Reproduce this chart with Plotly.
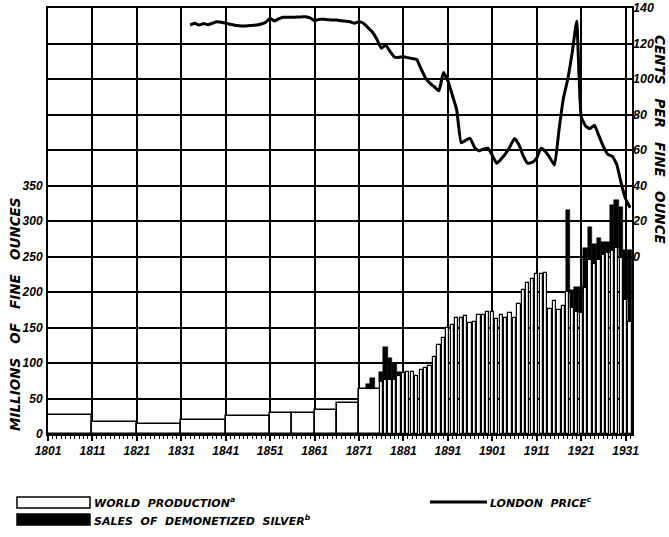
import plotly.graph_objects as go

# ---------------- data ----------------
# multi-year period averages (first year, last year, million fine ounces)
period_first = [1801, 1811, 1821, 1831, 1841, 1851, 1856, 1861, 1866, 1871]
period_last = [1810, 1820, 1830, 1840, 1850, 1855, 1860, 1865, 1870, 1875]
period_prod = [27, 17.5, 14.5, 20, 25.5, 30, 29, 34, 44, 64]

# annual world production, million fine ounces
annual_years = list(range(1876, 1933))
annual_prod = [73, 76, 76, 76, 82, 86, 88, 88, 81, 90,
               93, 96, 109, 125, 135, 150, 153, 164, 163, 166,
               156, 158, 168, 168, 172, 172, 162, 168, 163, 171,
               163, 183, 203, 213, 219, 226, 226, 227, 176, 188,
               175, 180, 200, 178, 172, 170, 205, 245, 240, 245,
               252, 255, 258, 262, 248, 189, 158]

# sales of demonetized silver, million fine ounces
sales_years = [1873, 1874, 1876, 1877, 1878, 1879, 1880,
               1918, 1919, 1920, 1921, 1922, 1923, 1924, 1925,
               1926, 1927, 1928, 1929, 1930, 1931, 1932]
sales_amount = [6, 15, 15, 47, 31, 24, 6,
                115, 25, 35, 37, 57, 47, 28, 31,
                19, 16, 64, 68, 72, 70, 101]

# London price, cents per fine ounce
price_years = list(range(1833, 1933))
price_cents = [130.4, 131.4, 130.4, 131.2, 130.6, 131.4, 132.3, 132.0, 131.4, 130.8,
               130.3, 130.0, 129.9, 130.0, 130.2, 130.4, 131.0, 132.0, 134.2, 132.7,
               134.0, 134.8, 134.8, 134.8, 134.9, 135.0, 135.1, 134.4, 132.8, 133.6,
               133.6, 133.4, 133.3, 133.2, 132.8, 132.6, 132.3, 131.4, 132.3, 131.4,
               129.0, 126.5, 122.5, 117.3, 119.2, 115.5, 112.3, 112.2, 112.6, 112.0,
               111.5, 111.0, 105.5, 100.5, 97.5, 95.5, 93.4, 103.6, 99.0, 91.0,
               82.5, 64.0, 65.5, 66.6, 61.5, 59.5, 60.5, 61.0, 57.0, 52.5,
               55.0, 58.0, 62.0, 66.5, 63.0, 56.5, 52.5, 53.0, 55.5, 61.0,
               59.0, 55.5, 51.5, 71.0, 89.0, 100.0, 115.0, 132.5, 79.0, 73.5,
               72.0, 74.0, 68.0, 62.0, 57.5, 56.5, 52.0, 41.5, 32.5, 27.5]

x_ticks = list(range(1801, 1932, 10))
left_ticks = list(range(0, 351, 50))
right_ticks = list(range(0, 141, 20))

# ---------------- figure ----------------
W, H = 669, 537
ML, MR, MT, MB = 48, 37, 8, 103
PW, PH = W - ML - MR, H - MT - MB


def px(x):
    return (x - ML) / PW


def py(y):
    return (H - MB - y) / PH


fig = go.Figure()

# period bars
p_centers = [(a + b + 1) / 2 for a, b in zip(period_first, period_last)]
p_widths = [(b + 1 - a) for a, b in zip(period_first, period_last)]
fig.add_trace(go.Bar(x=p_centers, y=period_prod, width=p_widths,
                     marker=dict(color="white", line=dict(color="black", width=1.6)),
                     showlegend=False, hoverinfo="skip"))

# sales bases
prod_lookup = dict(zip(annual_years, annual_prod))
for a, b, v in zip(period_first, period_last, period_prod):
    for yr in range(a, b + 1):
        prod_lookup.setdefault(yr, v)
sales_base = [prod_lookup[y] for y in sales_years]

fig.add_trace(go.Bar(x=sales_years, y=sales_amount, base=sales_base, width=1.0,
                     marker=dict(color="black", line=dict(color="black", width=0.5)),
                     showlegend=False, hoverinfo="skip"))

# annual production bars
fig.add_trace(go.Bar(x=annual_years, y=annual_prod, width=0.72,
                     marker=dict(color="white", line=dict(color="black", width=1.2)),
                     showlegend=False, hoverinfo="skip"))

# price line on secondary axis
fig.add_trace(go.Scatter(x=price_years, y=price_cents, yaxis="y2", mode="lines",
                         line=dict(color="black", width=3, shape="spline", smoothing=0.4),
                         showlegend=False, hoverinfo="skip"))

tick_font = dict(family="Liberation Sans, Arial, sans-serif",
                 size=11.5, color="black", weight="bold", style="italic")

fig.update_layout(
    width=W, height=H,
    margin=dict(l=ML, r=MR, t=MT, b=MB, autoexpand=False),
    paper_bgcolor="white", plot_bgcolor="white",
    barmode="overlay", bargap=0,
    xaxis=dict(range=[1801, 1932.45], tickvals=x_ticks, ticktext=[str(t) for t in x_ticks],
               showgrid=True, gridcolor="black", gridwidth=2,
               showline=True, linecolor="black", linewidth=2, mirror=True,
               ticks="outside", ticklen=5, tickwidth=1.5, tickcolor="black",
               minor=dict(ticks="outside", dtick=1, tick0=1801, ticklen=3, tickwidth=1,
                          tickcolor="black", showgrid=False),
               zeroline=False, tickfont=dict(tick_font, size=12), automargin=False),
    yaxis=dict(range=[0, 600], tickvals=left_ticks,
               showgrid=True, gridcolor="black", gridwidth=2,
               showline=True, linecolor="black", linewidth=2, mirror=True,
               ticks="", ticklabelstandoff=1, zeroline=False,
               tickfont=dict(tick_font, size=12), automargin=False),
    yaxis2=dict(range=[-100, 140], overlaying="y", side="right",
                tickvals=right_ticks, showgrid=True, gridcolor="black", gridwidth=2,
                showline=False, zeroline=False,
                ticks="", tickfont=dict(tick_font, size=12.5), automargin=False),
)

title_font = dict(family="DejaVu Sans, Liberation Sans, sans-serif", size=13.5,
                  color="black", weight="bold", style="italic")
nb = "\u00a0"
fig.add_annotation(text=f"MILLIONS{nb*3}OF{nb*3}FINE{nb*3}OUNCES", textangle=-90,
                   xref="paper", yref="paper", x=px(15), y=py(314),
                   xanchor="center", yanchor="middle",
                   showarrow=False, font=title_font)
fig.add_annotation(text=f"CENTS{nb*3}PER{nb*3}FINE{nb*3}OUNCE", textangle=90,
                   xref="paper", yref="paper", x=px(660), y=py(140),
                   xanchor="center", yanchor="middle",
                   showarrow=False, font=title_font)

# legend (drawn manually)
fig.add_shape(type="rect", xref="paper", yref="paper",
              x0=px(17), x1=px(90), y0=py(508), y1=py(497),
              line=dict(color="black", width=1.5), fillcolor="white")
fig.add_shape(type="rect", xref="paper", yref="paper",
              x0=px(17), x1=px(90), y0=py(525), y1=py(514),
              line=dict(color="black", width=1.5), fillcolor="black")
fig.add_shape(type="line", xref="paper", yref="paper",
              x0=px(430), x1=px(487), y0=py(502), y1=py(502),
              line=dict(color="black", width=3))
leg_font = dict(family="DejaVu Sans, Liberation Sans, sans-serif", size=11,
                color="black", weight="bold", style="italic")
fig.add_annotation(text=f"WORLD{nb*2}PRODUCTION<sup>a</sup>", xref="paper", yref="paper",
                   x=px(92), y=py(502), xanchor="left", yanchor="middle",
                   showarrow=False, font=leg_font)
fig.add_annotation(text=f"SALES{nb*2}OF{nb*2}DEMONETIZED{nb*2}SILVER<sup>b</sup>",
                   xref="paper", yref="paper",
                   x=px(92), y=py(520), xanchor="left", yanchor="middle",
                   showarrow=False, font=leg_font)
fig.add_annotation(text=f"LONDON{nb*2}PRICE<sup>c</sup>", xref="paper", yref="paper",
                   x=px(488), y=py(502), xanchor="left", yanchor="middle",
                   showarrow=False, font=leg_font)

fig.write_html("out.html", config={"displayModeBar": False},
               post_script="document.body.style.margin='0px';document.body.style.padding='0px';")
